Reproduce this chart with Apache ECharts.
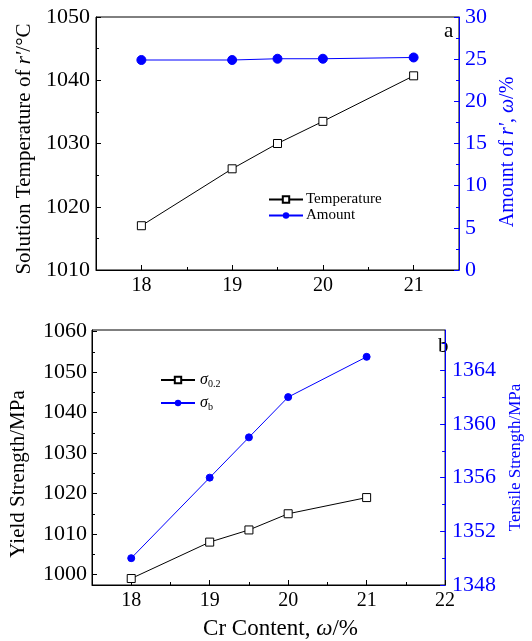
<!DOCTYPE html>
<html>
<head>
<meta charset="utf-8">
<script src="https://cdn.jsdelivr.net/npm/echarts@6/dist/echarts.min.js"></script>
<style>
    html, body { margin: 0; padding: 0; background: #fff; }
    #chart { width: 532px; height: 641px; }
</style>
</head>
<body>
<div id="chart"></div>
<script>
// Cr content (x values)
const crContent = [18, 19, 19.5, 20, 21]

// panel a
const solutionTemp = [1017, 1026, 1030, 1033.5, 1040.7]
const amountOfPhase = [24.9, 24.9, 25.05, 25.05, 25.2]

// panel b
const yieldStrength = [999, 1008, 1011, 1015, 1019]
const tensileStrength = [1350, 1356, 1359, 1362, 1365]

// tick labels
const topXTicks = [18, 19, 20, 21]
const topXMinor = [18.5, 19.5, 20.5]
const bottomXTicks = [18, 19, 20, 21, 22]
const bottomXMinor = [18.5, 19.5, 20.5, 21.5]
const yieldTicks = [1000, 1010, 1020, 1030, 1040, 1050, 1060]
const yieldMinor = [1005, 1015, 1025, 1035, 1045, 1055]
const tensileTicks = [1348, 1352, 1356, 1360, 1364]
const tensileMinor = [1350, 1354, 1358, 1362, 1366]

const FONT = 'Liberation Serif'
const BLUE = '#0000ff'
const BLACK = '#000'

const chart = echarts.init(document.getElementById('chart'))

function pairs(ys) {
    return crContent.map((x, i) => [x, ys[i]])
}

// no thousands separator
const plain = v => String(v)

function mainXAxis(gridIndex, min, max, ticks) {
    return {
        type: 'value',
        gridIndex: gridIndex,
        min: min,
        max: max,
        axisLine: { show: true, onZero: false, lineStyle: { color: BLACK, width: 1 } },
        axisTick: { show: true, inside: true, length: 5, customValues: ticks, lineStyle: { color: BLACK } },
        axisLabel: { customValues: ticks, formatter: plain, color: BLACK, fontFamily: FONT, fontSize: 20, margin: 6 },
        splitLine: { show: false },
    }
}

function minorXAxis(gridIndex, min, max, ticks) {
    return {
        type: 'value',
        gridIndex: gridIndex,
        position: 'bottom',
        min: min,
        max: max,
        axisLine: { show: false },
        axisTick: { show: true, inside: true, length: 3, customValues: ticks, lineStyle: { color: BLACK } },
        axisLabel: { show: false },
        splitLine: { show: false },
    }
}

function minorYAxis(gridIndex, position, min, max, ticks, color) {
    return {
        type: 'value',
        gridIndex: gridIndex,
        position: position,
        min: min,
        max: max,
        axisLine: { show: false },
        axisTick: { show: true, inside: true, length: 3, customValues: ticks, lineStyle: { color: color } },
        axisLabel: { show: false },
        splitLine: { show: false },
    }
}

function richWith(color, size) {
    return {
        n: { fontFamily: FONT, fontSize: size, color: color },
        i: { fontFamily: FONT, fontSize: size, fontStyle: 'italic', color: color },
    }
}

const option = {
    backgroundColor: '#fff',
    animation: false,
    grid: [
        { left: 96, right: 73, top: 17, bottom: 371, show: true, borderColor: BLACK, borderWidth: 1 },
        { left: 91, right: 71, top: 330, bottom: 54, show: true, borderColor: BLACK, borderWidth: 1 },
    ],
    legend: [
        {
            orient: 'vertical',
            left: 263,
            top: 187,
            itemWidth: 34,
            itemHeight: 8,
            itemGap: 1,
            data: ['Temperature', 'Amount'],
            textStyle: { fontFamily: FONT, fontSize: 15, color: BLACK, padding: [0, 0, 0, -2] },
        },
        {
            orient: 'vertical',
            left: 155,
            top: 367,
            itemWidth: 34,
            itemHeight: 8,
            itemGap: 6,
            data: ['sigma02', 'sigmab'],
            formatter: function (name) {
                return name === 'sigma02' ? '{s|σ}{sub|0.2}' : '{s|σ}{sub|b}'
            },
            textStyle: {
                color: BLACK,
                rich: {
                    s: { fontFamily: FONT, fontSize: 16, fontStyle: 'italic', color: BLACK },
                    sub: { fontFamily: FONT, fontSize: 10, color: BLACK, padding: [8, 0, 0, 0] },
                },
            },
        },
    ],
    xAxis: [
        mainXAxis(0, 17.5, 21.5, topXTicks),
        minorXAxis(0, 17.5, 21.5, topXMinor),
        Object.assign(mainXAxis(1, 17.5, 22, bottomXTicks), {
            name: '{n|Cr Content, }{i|ω}{n|/%}',
            nameLocation: 'middle',
            nameGap: 32,
            nameTextStyle: { rich: richWith(BLACK, 23), padding: [0, 0, 0, 24] },
        }),
        minorXAxis(1, 17.5, 22, bottomXMinor),
    ],
    yAxis: [
        // 0: panel a, left
        {
            type: 'value',
            gridIndex: 0,
            position: 'left',
            min: 1010,
            max: 1050,
            interval: 10,
            name: '{n|Solution Temperature of }{i|r\'}{n|/°C}',
            nameLocation: 'middle',
            nameGap: 55,
            nameTextStyle: { rich: richWith(BLACK, 21), padding: [0, 11, 0, 0] },
            axisLine: { show: true, lineStyle: { color: BLACK } },
            axisTick: { show: true, inside: true, length: 5, lineStyle: { color: BLACK } },
            minorTick: { show: true, splitNumber: 2, length: 3, lineStyle: { color: BLACK } },
            axisLabel: { formatter: plain, color: BLACK, fontFamily: FONT, fontSize: 22, margin: 6 },
            splitLine: { show: false },
        },
        // 1: panel a, right
        {
            type: 'value',
            gridIndex: 0,
            position: 'right',
            min: 0,
            max: 30,
            interval: 5,
            name: '{n|Amount of }{i|r\'}{n|, }{i|ω}{n|/%}',
            nameLocation: 'middle',
            nameGap: 38,
            nameRotate: 90,
            nameTextStyle: { rich: richWith(BLUE, 20), padding: [0, 17, 0, 0] },
            axisLine: { show: true, lineStyle: { color: BLUE } },
            axisTick: { show: true, inside: true, length: 5, lineStyle: { color: BLUE } },
            minorTick: { show: true, splitNumber: 2, length: 3, lineStyle: { color: BLUE } },
            axisLabel: { formatter: plain, color: BLUE, fontFamily: FONT, fontSize: 22, margin: 6 },
            splitLine: { show: false },
        },
        // 2: panel b, left
        {
            type: 'value',
            gridIndex: 1,
            position: 'left',
            min: 997.4,
            max: 1060.4,
            name: 'Yield Strength/MPa',
            nameLocation: 'middle',
            nameGap: 63,
            nameTextStyle: { fontFamily: FONT, fontSize: 21, color: BLACK, padding: [0, 33, 0, 0] },
            axisLine: { show: true, lineStyle: { color: BLACK } },
            axisTick: { show: true, inside: true, length: 5, customValues: yieldTicks, lineStyle: { color: BLACK } },
            axisLabel: { customValues: yieldTicks, formatter: plain, color: BLACK, fontFamily: FONT, fontSize: 22, margin: 5 },
            splitLine: { show: false },
        },
        // 3: panel b, right
        {
            type: 'value',
            gridIndex: 1,
            position: 'right',
            min: 1348,
            max: 1367,
            name: 'Tensile Strength/MPa',
            nameLocation: 'middle',
            nameGap: 60,
            nameRotate: 90,
            nameTextStyle: { fontFamily: FONT, fontSize: 17, color: BLUE },
            axisLine: { show: true, lineStyle: { color: BLUE } },
            axisTick: { show: true, inside: true, length: 5, customValues: tensileTicks, lineStyle: { color: BLUE } },
            axisLabel: { customValues: tensileTicks, formatter: plain, color: BLUE, fontFamily: FONT, fontSize: 22, margin: 7 },
            splitLine: { show: false },
        },
        // 4, 5: minor ticks for panel b
        minorYAxis(1, 'left', 997.4, 1060.4, yieldMinor, BLACK),
        minorYAxis(1, 'right', 1348, 1367, tensileMinor, BLUE),
    ],
    series: [
        {
            name: 'Temperature',
            type: 'line',
            xAxisIndex: 0,
            yAxisIndex: 0,
            data: pairs(solutionTemp),
            symbol: 'rect',
            symbolSize: 8,
            lineStyle: { color: BLACK, width: 1 },
            itemStyle: { color: '#fff', borderColor: BLACK, borderWidth: 1 },
        },
        {
            name: 'Amount',
            type: 'line',
            xAxisIndex: 0,
            yAxisIndex: 1,
            data: pairs(amountOfPhase),
            symbol: 'circle',
            symbolSize: 9,
            lineStyle: { color: BLUE, width: 1 },
            itemStyle: { color: BLUE, borderColor: BLUE },
        },
        {
            name: 'sigma02',
            type: 'line',
            xAxisIndex: 2,
            yAxisIndex: 2,
            data: pairs(yieldStrength),
            symbol: 'rect',
            symbolSize: 8,
            lineStyle: { color: BLACK, width: 1 },
            itemStyle: { color: '#fff', borderColor: BLACK, borderWidth: 1 },
        },
        {
            name: 'sigmab',
            type: 'line',
            xAxisIndex: 2,
            yAxisIndex: 3,
            data: pairs(tensileStrength),
            symbol: 'circle',
            symbolSize: 7,
            lineStyle: { color: BLUE, width: 1 },
            itemStyle: { color: BLUE, borderColor: BLUE },
        },
    ],
    graphic: [
        { type: 'text', left: 444, top: 21, style: { text: 'a', font: '21px "Liberation Serif"', fill: BLACK } },
        { type: 'text', left: 438, top: 336, style: { text: 'b', font: '21px "Liberation Serif"', fill: BLACK } },
    ],
}

chart.setOption(option)
</script>
</body>
</html>
